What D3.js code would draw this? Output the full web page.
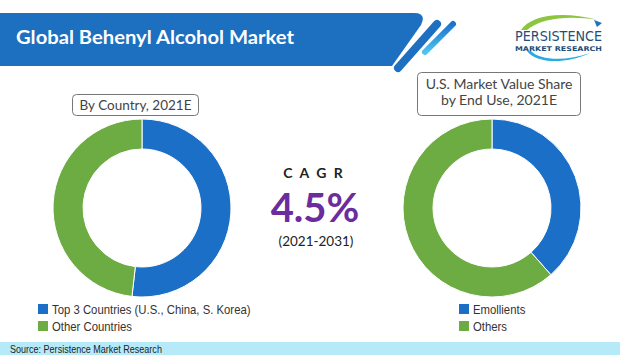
<!DOCTYPE html>
<html>
<head>
<meta charset="utf-8">
<script src="https://cdn.jsdelivr.net/npm/d3@7"></script>
<style>
  html, body { margin: 0; padding: 0; background: #fff; }
  svg { display: block; }
</style>
</head>
<body>
<script>
// ---- data ----
const title = "Global Behenyl Alcohol Market";
const countryCategories = ["Top 3 Countries (U.S., China, S. Korea)", "Other Countries"];
const countryShare = [51.8, 48.2];
const endUseCategories = ["Emollients", "Others"];
const endUseShare = [38.5, 61.5];
const leftTitle = ["By Country, 2021E"];
const rightTitle = ["U.S. Market Value Share", "by End Use, 2021E"];
const cagrLabel = "C A G R";
const cagrValue = "4.5%";
const cagrPeriod = "(2021-2031)";
const source = "Source: Persistence Market Research";

const W = 620, H = 355;
const blue = "#1b6fc6", green = "#6dab43";
const colors = d3.scaleOrdinal().range([blue, green]);
const sansF = "'Liberation Sans', Arial, sans-serif";
const gothic = "Lato, 'Open Sans', sans-serif";

const svg = d3.select("body").append("svg").attr("width", W).attr("height", H);

// condense a text element horizontally (Calibri-like narrow look)
function condense(sel, ratio) {
  sel.each(function () {
    const w = this.getComputedTextLength();
    d3.select(this).attr("textLength", w * ratio).attr("lengthAdjust", "spacingAndGlyphs");
  });
}

const defs = svg.append("defs");
const grad = defs.append("linearGradient").attr("id", "stripe2").attr("x1", 0).attr("y1", 0).attr("x2", 0).attr("y2", 1);
grad.append("stop").attr("offset", "0%").attr("stop-color", "#1a72cc");
grad.append("stop").attr("offset", "100%").attr("stop-color", "#4fc4ef");

// ---- header banner ----
svg.append("path")
  .attr("d", "M0,13 H414 Q427,13 421,25 L392,66 H0 Z")
  .attr("fill", "#1d6fc0");
svg.append("line").attr("x1", 398).attr("y1", 68).attr("x2", 437).attr("y2", 24)
  .attr("stroke", "#1d6fc0").attr("stroke-width", 8).attr("stroke-linecap", "round");
svg.append("line").attr("x1", 425).attr("y1", 52).attr("x2", 453).attr("y2", 24)
  .attr("stroke", "url(#stripe2)").attr("stroke-width", 6).attr("stroke-linecap", "round");

svg.append("text").text(title)
  .attr("x", 16).attr("y", 44)
  .attr("textLength", 278).attr("lengthAdjust", "spacingAndGlyphs")
  .attr("font-family", gothic)
  .attr("font-weight", 700).attr("font-size", 19)
  .attr("fill", "#fff");

// ---- logo ----
const logo = svg.append("g");
logo.append("path")
  .attr("d", "M521,30 C530,16 560,10 598,20 C570,15 540,18 527,30 Z")
  .attr("fill", "#8cc63f");
logo.append("path")
  .attr("d", "M594,20 L602,23 L597,27 Z").attr("fill", "#1b75bb");
logo.append("text").text("PERSISTENCE")
  .attr("x", 515).attr("y", 41)
  .attr("textLength", 87).attr("lengthAdjust", "spacingAndGlyphs")
  .attr("font-family", "'DejaVu Sans', sans-serif").attr("font-size", 14.5)
  .attr("fill", "#1e4f7a");
logo.append("text").text("MARKET RESEARCH")
  .attr("x", 515).attr("y", 50.5)
  .attr("textLength", 87).attr("lengthAdjust", "spacingAndGlyphs")
  .attr("font-family", "'DejaVu Sans', sans-serif").attr("font-weight", 700).attr("font-size", 6.5)
  .attr("fill", "#1e4f7a");
logo.append("path")
  .attr("d", "M527,51 C535,63 565,65 590,53 C568,61 540,61 531,51 Z")
  .attr("fill", "#29abe2");

// ---- title boxes ----
function titleBox(x, y, w, h, lines, y0, dy, fs) {
  svg.append("rect").attr("x", x).attr("y", y).attr("width", w).attr("height", h)
    .attr("rx", 4).attr("fill", "#fff").attr("stroke", "#777").attr("stroke-width", 1);
  lines.forEach((t, i) => {
    svg.append("text").text(t)
      .attr("x", x + w / 2).attr("y", y0 + i * dy)
      .attr("text-anchor", "middle")
      .attr("font-family", gothic).attr("font-size", fs)
      .attr("fill", "#444");
  });
}
titleBox(72.5, 94.5, 126, 21, leftTitle, 110, 0, 13.5);
titleBox(417.5, 72.5, 163, 43, rightTitle, 89, 16, 14);

// ---- donuts ----
const pie = d3.pie().sort(null).value(d => d);
const arc = d3.arc().innerRadius(59).outerRadius(89);

function donut(cx, cy, values) {
  const g = svg.append("g").attr("transform", `translate(${cx},${cy})`);
  g.selectAll("path").data(pie(values)).join("path")
    .attr("d", arc)
    .attr("fill", (d, i) => colors(i))
    .attr("stroke", "#fff").attr("stroke-width", 1);
}
donut(142, 208, countryShare);
donut(492, 208, endUseShare);

// ---- CAGR ----
svg.append("text").text(cagrLabel)
  .attr("x", 314).attr("y", 178).attr("text-anchor", "middle")
  .attr("font-family", gothic).attr("font-weight", 700).attr("font-size", 14)
  .attr("letter-spacing", 2)
  .attr("fill", "#222");
svg.append("text").text(cagrValue)
  .attr("x", 315).attr("y", 222).attr("text-anchor", "middle")
  .attr("font-family", gothic).attr("font-weight", 700).attr("font-size", 40)
  .attr("fill", "#6b2d9e");
svg.append("text").text(cagrPeriod)
  .attr("x", 316).attr("y", 246).attr("text-anchor", "middle")
  .attr("font-family", gothic).attr("font-size", 13.5)
  .attr("fill", "#222");

// ---- legends ----
function legend(x, y, cats) {
  const g = svg.append("g").attr("transform", `translate(${x},${y})`);
  const row = g.selectAll("g").data(cats).join("g")
    .attr("transform", (d, i) => `translate(0,${i * 17})`);
  row.append("rect").attr("x", 0).attr("y", -5).attr("width", 10).attr("height", 10)
    .attr("fill", (d, i) => colors(i));
  row.append("text").text(d => d)
    .attr("x", 14).attr("y", 5)
    .attr("font-family", sansF).attr("font-size", 13.5)
    .attr("fill", "#333")
    .call(condense, 0.84);
}
legend(38, 309, countryCategories);
legend(459, 309, endUseCategories);

// ---- footer ----
svg.append("rect").attr("x", 0).attr("y", 342).attr("width", W).attr("height", 13).attr("fill", "#b6eaf8");
svg.append("text").text(source)
  .attr("x", 10).attr("y", 352.5)
  .attr("font-family", sansF).attr("font-size", 11)
  .attr("fill", "#222")
  .call(condense, 0.82);
</script>
</body>
</html>
